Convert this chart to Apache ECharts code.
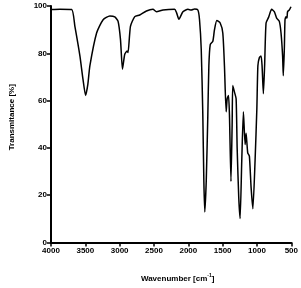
<!DOCTYPE html>
<html><head><meta charset="utf-8">
<script src="https://cdn.jsdelivr.net/npm/echarts@6/dist/echarts.min.js"></script>
<style>html,body{margin:0;padding:0;background:#fff}#c{width:301px;height:288px}</style>
</head><body><div id="c"></div>
<script>
const wavenumbers = [4000,3869,3699,3652,3579,3535,3496,3463,3434,3336,3241,3143,3071,3023,2988,2959,2926,2892,2878,2843,2780,2708,2610,2515,2465,2369,2200,2171,2137,2079,2006,1957,1909,1861,1837,1812,1789,1774,1760,1739,1716,1701,1681,1643,1619,1585,1536,1498,1474,1449,1434,1415,1401,1379,1362,1353,1328,1304,1289,1266,1246,1222,1198,1173,1159,1135,1111,1086,1060,1028,1002,987,965,941,926,907,889,868,830,787,748,714,675,650,627,617,602,592,578,563,555,530,505];
const transmittance = [98.5,98.6,98.5,91.4,78.9,69.2,62.2,67,74.7,88.6,94.2,95.8,95.4,93.5,85.8,73.3,79.6,81,80.3,91.4,95.5,96.2,97.9,98.6,97.6,98.3,98.6,97.1,94.4,97.6,98.6,98.3,98.7,98.3,94.2,81.7,53.9,26.1,12.9,26.1,53.9,74.7,83.7,85.1,90,93.9,92.8,88.6,74.7,55.3,60.8,62.2,53.9,25.8,49.7,66.4,63.6,60.8,40,19.2,10.1,34.4,55.3,41.4,46.2,37.9,36.5,23.3,14.3,34.6,56.7,74.7,78.2,78.9,74.7,62.9,74.7,92.8,95.3,98.6,97.6,94.9,93.5,88.6,78.9,70.5,81.7,94.2,95.5,94.9,97.6,98.3,99.7];
const xTicks = {min:500, max:4000, interval:500};
const yTicks = {min:0, max:100, interval:20};

const chart = echarts.init(document.getElementById('c'));
const font = 'Liberation Sans, Arial, sans-serif';
chart.setOption({
  animation:false,
  grid:{left:51,right:9,top:6,bottom:42,containLabel:false},
  xAxis:{type:'value',inverse:true,min:xTicks.min,max:xTicks.max,interval:xTicks.interval,
    name:'{a|Wavenumber [cm}{s|-1}{a|]}',nameLocation:'middle',nameGap:31,
    nameTextStyle:{padding:[0,0,0,13],rich:{a:{fontFamily:font,fontWeight:'bold',fontSize:8,color:'#000'},s:{fontFamily:font,fontWeight:'bold',fontSize:5,color:'#000',verticalAlign:'top',padding:[0,0,6,0]}}},
    axisLine:{onZero:false,lineStyle:{color:'#000',width:2}},
    axisTick:{show:true,length:4,lineStyle:{color:'#000',width:1.5}},
    axisLabel:{color:'#000',fontFamily:font,fontWeight:'bold',fontSize:8,margin:4,formatter:v=>String(v)},
    splitLine:{show:false}},
  yAxis:{type:'value',min:yTicks.min,max:yTicks.max,interval:yTicks.interval,
    name:'Transmitance [%]',nameLocation:'middle',nameGap:35,
    nameTextStyle:{fontFamily:font,fontWeight:'bold',fontSize:8,color:'#000',padding:[0,0,0,14]},
    axisLine:{show:true,onZero:false,lineStyle:{color:'#000',width:2}},
    axisTick:{show:true,length:4,lineStyle:{color:'#000',width:1.5}},
    axisLabel:{color:'#000',fontFamily:font,fontWeight:'bold',fontSize:8,margin:4,formatter:v=>String(v)},
    splitLine:{show:false}},
  series:[{type:'line',data:wavenumbers.map((w,i)=>[w,transmittance[i]]),showSymbol:false,
    lineStyle:{color:'#000',width:1.5},smooth:0.2}]
});
</script></body></html>
